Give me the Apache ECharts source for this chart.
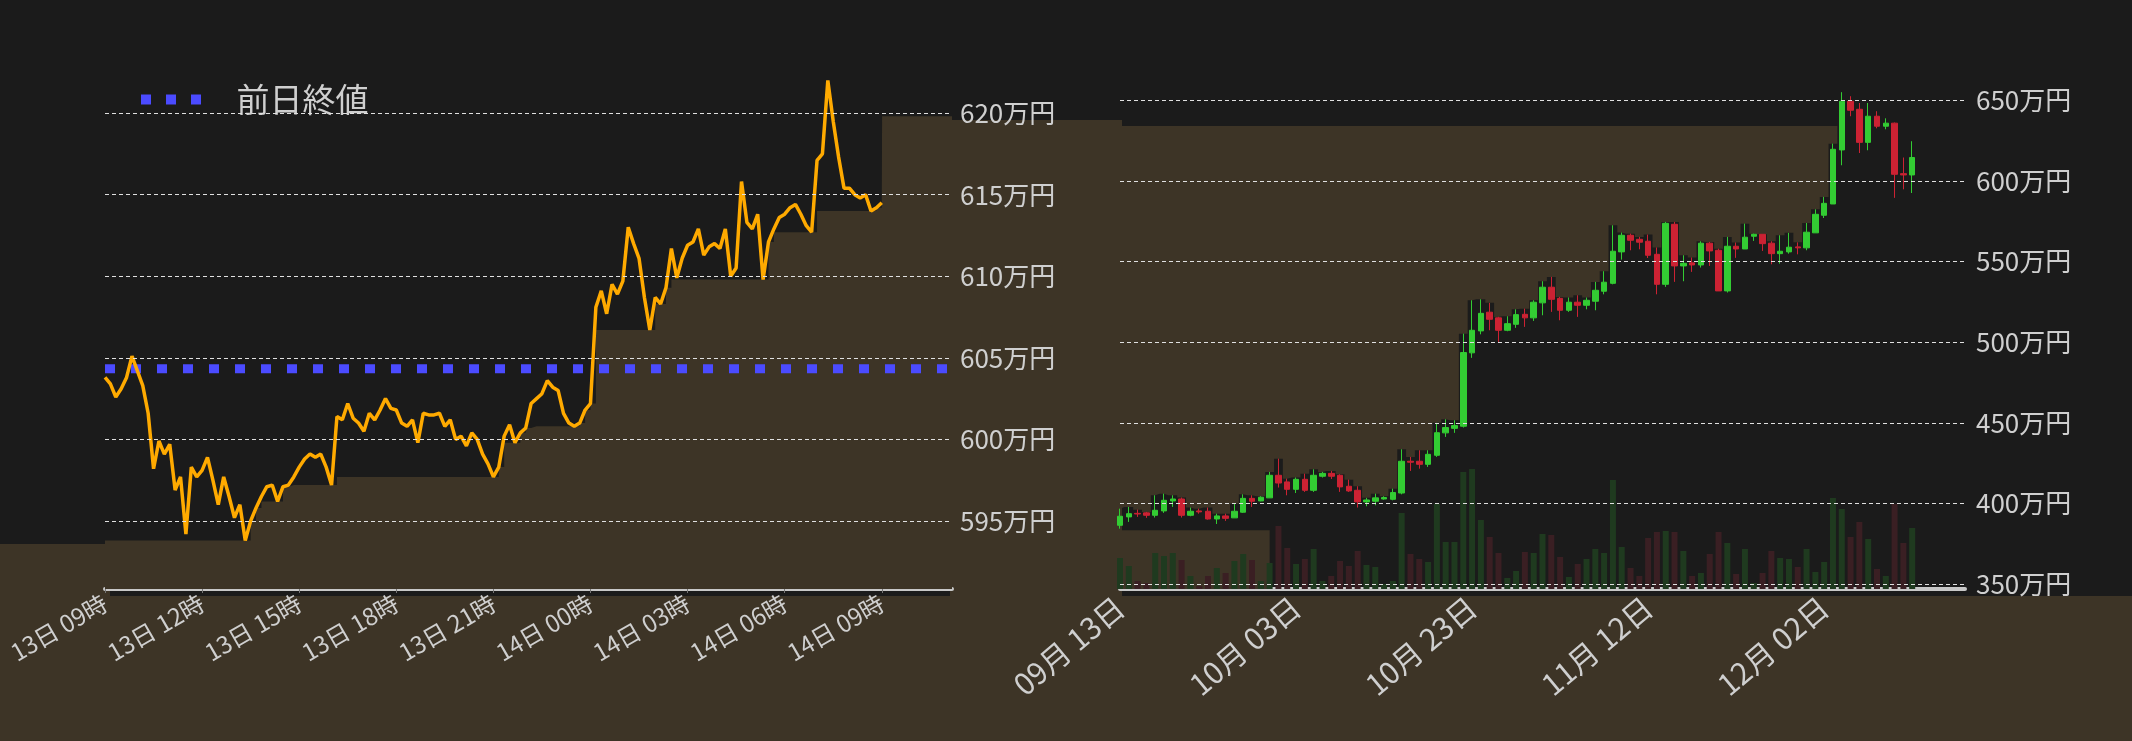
<!DOCTYPE html>
<html>
<head>
<meta charset="utf-8">
<style>
html,body{margin:0;padding:0;background:#1b1b1b;}
#chart{width:2132px;height:741px;}
</style>
<script src="https://cdn.jsdelivr.net/npm/echarts@6/dist/echarts.min.js"></script>
</head>
<body>
<div id="chart"></div>
<script>
// 日中チャート (10分足, 13日 09:00 ~)
var intraday = [
  603.8,603.4,602.6,603.1,603.8,605.1,604.2,603.3,601.6,598.2,599.9,599.1,599.7,596.9,597.7,594.2,
  598.3,597.7,598.1,598.9,597.5,596.0,597.7,596.5,595.2,596.0,593.8,595.0,595.8,596.5,597.1,597.2,
  596.2,597.1,597.2,597.7,598.3,598.8,599.1,598.9,599.1,598.3,597.2,601.4,601.2,602.2,601.3,601.0,
  600.5,601.6,601.2,601.8,602.5,601.9,601.8,601.0,600.8,601.2,599.8,601.6,601.5,601.5,601.6,600.8,
  601.2,600.0,600.2,599.6,600.4,600.0,599.1,598.5,597.7,598.3,600.2,600.9,599.8,600.4,600.7,602.2,
  602.5,602.8,603.6,603.2,603.0,601.6,601.0,600.8,601.0,601.8,602.2,608.1,609.1,607.7,609.5,608.9,
  609.7,613.0,612.0,611.1,608.7,606.7,608.7,608.3,609.3,611.7,609.9,611.1,611.9,612.1,612.9,611.3,
  611.8,612.0,611.7,612.9,610.0,610.5,615.8,613.3,612.9,613.8,609.8,612.1,612.9,613.6,613.8,614.2,
  614.4,613.8,613.1,612.7,617.1,617.5,622.0,619.5,617.3,615.4,615.4,615.0,614.8,615.0,614.0,614.2,614.5
];
var prevClose = 604.33;
var intraTicks = [595, 600, 605, 610, 615, 620];

// 日足 (09/13 ~ 12/12): [open, close, low, high]
var daily = [
  [386.5,392.1,384.4,396.8],[391.7,393.7,388.6,397.9],[393.9,393.5,391.7,396.2],[394.2,392.7,391.1,394.8],
  [392.7,395.8,391.3,405.1],[395.4,402.0,394.2,406.1],[401.6,402.8,397.9,405.1],[402.8,392.7,391.3,403.7],
  [392.7,395.2,392.1,397.5],[395.4,394.8,393.7,396.8],[395.2,390.4,390.0,397.5],[390.4,392.3,387.3,393.7],
  [392.3,390.8,389.2,393.7],[391.1,395.2,391.1,399.9],[394.6,403.2,394.2,405.7],[403.2,401.4,397.9,405.1],
  [401.6,403.9,401.4,404.5],[403.5,417.5,403.5,419.6],[417.5,412.7,409.9,427.8],[413.4,408.8,405.1,415.4],
  [408.8,415.0,406.5,416.1],[415.0,408.2,407.2,418.5],[408.2,417.5,407.2,421.2],[416.9,418.7,416.1,419.6],
  [418.7,416.9,415.2,420.2],[417.5,410.3,407.2,418.1],[410.7,407.8,407.2,414.8],[408.2,401.0,397.5,410.7],
  [401.0,402.2,398.3,403.5],[401.4,403.5,398.9,406.1],[402.8,403.7,402.4,404.5],[402.6,406.8,402.0,409.2],
  [406.5,426.2,405.7,433.6],[426.2,425.6,420.2,428.9],[426.2,424.3,421.6,433.0],[424.3,430.5,422.7,433.0],
  [429.9,443.9,428.9,450.0],[443.8,447.1,441.3,452.2],[446.6,448.3,443.8,451.6],[447.9,493.6,447.1,505.3],
  [493.4,507.4,490.3,526.0],[507.0,517.9,504.9,526.6],[518.6,514.2,507.4,524.4],[515.1,507.4,500.2,515.7],
  [507.4,511.5,506.8,516.1],[511.1,517.1,508.9,520.4],[517.3,515.1,509.5,520.8],[515.1,524.8,513.2,526.0],
  [524.4,534.1,516.7,537.8],[534.1,526.6,518.8,540.5],[527.2,519.8,513.6,528.1],[519.8,524.8,518.8,527.7],
  [524.8,522.9,515.7,529.1],[522.9,526.0,520.4,527.7],[525.4,532.2,519.8,537.4],[531.6,537.2,529.7,544.0],
  [536.5,556.4,535.9,572.5],[556.0,566.3,551.2,568.0],[566.3,563.2,557.0,567.3],[563.8,562.0,557.6,565.3],
  [562.6,553.9,552.2,566.7],[554.5,535.9,529.7,558.7],[535.9,573.7,534.3,574.6],[573.1,547.3,537.4,574.6],
  [547.3,548.9,537.8,553.9],[549.2,547.9,543.6,552.5],[547.9,561.4,546.3,562.6],[561.4,556.6,547.3,562.2],
  [557.0,531.8,531.8,558.0],[531.8,559.5,530.8,565.3],[559.5,557.8,552.3,561.8],[557.8,565.1,557.8,573.5],
  [565.7,566.9,562.8,567.3],[566.9,561.1,556.6,566.9],[561.4,554.9,548.3,562.6],[554.9,556.4,548.7,566.3],
  [556.0,558.9,554.9,567.8],[559.1,558.5,554.5,561.9],[558.5,568.2,557.0,573.9],[567.8,579.3,567.8,582.4],
  [578.7,586.1,577.0,590.1],[585.7,619.6,585.7,623.1],[619.2,649.4,609.7,655.0],[649.4,643.8,640.1,652.5],
  [644.4,623.9,617.3,648.3],[623.9,640.1,619.0,648.3],[640.1,633.9,632.6,643.2],[633.9,635.8,632.0,638.8],
  [635.8,604.1,589.5,636.2],[604.5,603.7,594.8,614.5],[603.7,614.5,592.5,624.6]
];
var volume = [
  31,23,8,6,36,33,36,29,13,3,13,21,16,28,35,29,8,26,63,41,25,30,40,8,13,28,23,38,24,22,5,8,
  76,35,30,27,85,47,47,117,120,69,52,36,11,18,37,36,55,54,32,12,25,30,40,36,109,42,21,13,51,57,
  58,57,38,13,16,35,57,46,15,40,6,16,38,31,30,22,40,17,27,91,80,52,67,50,20,13,85,46,61
];
var dailyTicks = [350, 400, 450, 500, 550, 600, 650];

var BROWN = '#3d3426', BG = '#1b1b1b', TXT = '#cfcfcf';

// 日付カテゴリ 09/13 ~ 12/18
var dates = [];
for (var d = new Date(2020, 8, 13); dates.length < 97; d.setDate(d.getDate() + 1)) {
  dates.push(('0' + (d.getMonth() + 1)).slice(-2) + '月 ' + ('0' + d.getDate()).slice(-2) + '日');
}

var intraData = intraday.map(function (v, i) { return [i / 6, v]; });
// 以降の最安値 (背景の段)
var suffix = [], m = Infinity;
for (var i = intraday.length - 1; i >= 0; i--) { m = Math.min(m, intraday[i]); suffix[i] = [i / 6, m]; }
var lastX = (intraday.length - 1) / 6;
suffix.push([lastX + 0.01, 619.8], [26.17, 619.8]);

var highBase = daily.map(function (c, i) { return i <= 81 ? c[3] : null; });
var highBand = daily.map(function (c, i) { return i <= 81 ? Math.max(0, 634 - c[3]) : null; });

function gridLines(ticks) {
  return {
    silent: true, symbol: 'none', animation: false,
    lineStyle: { color: '#e0e0e0', type: [4, 3], width: 1 },
    label: { show: false },
    data: ticks.map(function (t) { return { yAxis: t }; })
  };
}

var chart = echarts.init(document.getElementById('chart'));
chart.setOption({
  backgroundColor: BG,
  animation: false,
  graphic: [
    { type: 'rect', z: -10, shape: { x: 0, y: 544, width: 110, height: 200 }, style: { fill: BROWN } },
    { type: 'rect', z: -10, shape: { x: 950, y: 120, width: 172, height: 625 }, style: { fill: BROWN } },
    { type: 'rect', z: -10, shape: { x: 0, y: 596, width: 2132, height: 150 }, style: { fill: BROWN } }
  ],
  legend: {
    left: 136, top: 78, itemWidth: 61, itemHeight: 10,
    data: [{ name: '前日終値', icon: 'path://M0,0h10v10h-10zM25,0h10v10h-10zM50,0h10v10h-10z', itemStyle: { color: '#4b4bff' } }],
    textStyle: { color: TXT, fontSize: 33, fontFamily: 'Noto Sans CJK JP', padding: [0, 0, 0, 30] }
  },
  grid: [
    { left: 105, width: 847, top: 31.5, height: 557.5 },
    { left: 1120, width: 845, top: 68, height: 521 }
  ],
  xAxis: [
    {
      type: 'value', gridIndex: 0, min: 0, max: 26.17, interval: 3,
      axisLine: { lineStyle: { color: '#c8c8c8', width: 4 } },
      axisTick: { show: true, length: 4, lineStyle: { color: '#777' } },
      splitLine: { show: false },
      axisLabel: {
        color: TXT, fontSize: 24, rotate: 30, margin: 12, showMaxLabel: false,
        fontFamily: 'Noto Sans CJK JP',
        formatter: function (h) {
          var t = 9 + h, day = 13 + Math.floor(t / 24), hr = t % 24;
          return day + '日 ' + ('0' + hr).slice(-2) + '時';
        }
      }
    },
    {
      type: 'category', gridIndex: 1, data: dates, boundaryGap: false,
      axisLine: { lineStyle: { color: '#c8c8c8', width: 4 } },
      axisTick: { show: false },
      splitLine: { show: false },
      axisLabel: { color: TXT, fontSize: 30, rotate: 40, margin: 14, interval: 19, fontFamily: 'Noto Sans CJK JP' }
    }
  ],
  yAxis: [
    {
      type: 'value', gridIndex: 0, position: 'right', min: 590.83, max: 625, scale: true,
      axisLine: { show: false }, axisTick: { show: false }, splitLine: { show: false },
      axisLabel: { color: TXT, fontSize: 26, margin: 8, customValues: intraTicks, fontFamily: 'Noto Sans CJK JP',
        formatter: function (v) { return v + '万円'; } }
    },
    {
      type: 'value', gridIndex: 1, position: 'right', min: 347, max: 670, scale: true,
      axisLine: { show: false }, axisTick: { show: false }, splitLine: { show: false },
      axisLabel: { color: TXT, fontSize: 26, margin: 11, customValues: dailyTicks, fontFamily: 'Noto Sans CJK JP',
        formatter: function (v) { return v + '万円'; } }
    },
    { type: 'value', gridIndex: 1, min: 0, max: 521, show: false }
  ],
  series: [
    {
      name: 'bg1', type: 'line', xAxisIndex: 0, yAxisIndex: 0, data: suffix, step: 'end',
      symbol: 'none', lineStyle: { width: 0 }, areaStyle: { color: BROWN, opacity: 1 }, z: 1, silent: true
    },
    {
      name: 'grid1', type: 'line', xAxisIndex: 0, yAxisIndex: 0, data: [], z: 2, markLine: gridLines(intraTicks)
    },
    {
      name: '前日終値', type: 'line', xAxisIndex: 0, yAxisIndex: 0,
      data: [[0, prevClose], [26.17, prevClose]], symbol: 'none', z: 3,
      lineStyle: { color: '#4b4bff', width: 9, type: [10, 16], cap: 'butt' },
      itemStyle: { color: '#4b4bff' }
    },
    {
      name: '価格', type: 'line', xAxisIndex: 0, yAxisIndex: 0, data: intraData, symbol: 'none', z: 4,
      lineStyle: { color: '#ffaa00', width: 3.5 }
    },
    {
      name: 'base2', type: 'line', xAxisIndex: 1, yAxisIndex: 1, data: highBase, stack: 'hb', step: 'middle',
      symbol: 'none', lineStyle: { width: 0 }, z: 1, silent: true
    },
    {
      name: 'bg2', type: 'line', xAxisIndex: 1, yAxisIndex: 1, data: highBand, stack: 'hb', step: 'middle',
      symbol: 'none', lineStyle: { width: 0 }, areaStyle: { color: BROWN, opacity: 1 }, z: 1, silent: true
    },
    {
      name: 'grid2', type: 'line', xAxisIndex: 1, yAxisIndex: 1, data: [], z: 2,
      markLine: gridLines(dailyTicks),
      markArea: { silent: true, itemStyle: { color: BROWN }, data: [[{ xAxis: 0, yAxis: 347 }, { xAxis: 17, yAxis: 383.4 }]] }
    },
    {
      name: '出来高', type: 'bar', xAxisIndex: 1, yAxisIndex: 2, barWidth: 6, z: 3,
      data: volume.map(function (v, i) {
        var up = daily[i][1] >= daily[i][0];
        return { value: v, itemStyle: { color: up ? '#1f3a1f' : '#3a1f23' } };
      })
    },
    {
      name: '日足', type: 'candlestick', xAxisIndex: 1, yAxisIndex: 1, data: daily, barWidth: 6, z: 4,
      itemStyle: { color: '#33cc33', color0: '#cc2233', borderColor: '#33cc33', borderColor0: '#cc2233', borderWidth: 1 }
    }
  ]
});
</script>
</body>
</html>
